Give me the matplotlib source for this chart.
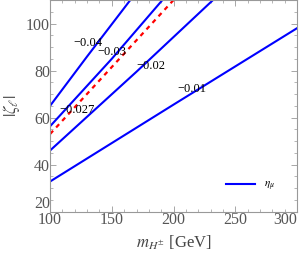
import matplotlib
matplotlib.use("Agg")
import matplotlib.pyplot as plt
from matplotlib.ticker import MultipleLocator

# data
x_m004 = [100, 130, 165]
y_m004 = [65, 86, 110]
x_m003 = [100, 150, 191]
y_m003 = [56.3, 85, 110]
x_m0027 = [100, 150, 200]
y_m0027 = [53, 81.5, 110]
x_m002 = [100, 170, 232]
y_m002 = [46, 79.5, 110]
x_m001 = [100, 200, 300]
y_m001 = [32.8, 65.5, 98]

labels = ["\u22120.04", "\u22120.03", "\u22120.02", "\u22120.01", "\u22120.027"]
label_x = [131, 150, 182, 215, 122]
label_y = [91.5, 87.7, 82, 72, 63]

x_ticks = [100, 150, 200, 250, 300]
y_ticks = [20, 40, 60, 80, 100]

plt.rcParams['font.family'] = ['Liberation Serif', 'DejaVu Serif']
plt.rcParams['mathtext.fontset'] = 'stix'

fig = plt.figure(figsize=(3.0, 2.54), dpi=100)
ax = fig.add_axes([0.167, 0.167, 0.823, 0.833])

blue = '#0000ff'
ax.plot(x_m004, y_m004, color=blue, lw=1.5, label=r'$\eta_\mu$')
ax.plot(x_m003, y_m003, color=blue, lw=1.5)
ax.plot(x_m002, y_m002, color=blue, lw=1.5)
ax.plot(x_m001, y_m001, color=blue, lw=1.5)
ax.plot(x_m0027, y_m0027, color='#ff0000', lw=1.6, ls=(0, (2, 2)))

for t, lx, ly in zip(labels, label_x, label_y):
    ax.text(lx, ly, t, fontsize=9, ha='center', va='center', color='black')

ax.set_xlim(100, 300)
ax.set_ylim(20, 110)
ax.set_xticks(x_ticks, [str(v) for v in x_ticks])
ax.set_yticks(y_ticks, [str(v) for v in y_ticks])
ax.xaxis.set_minor_locator(MultipleLocator(10))
ax.yaxis.set_minor_locator(MultipleLocator(5))
ax.tick_params(which='both', direction='in', top=True, right=True, color='#999999', labelcolor='#555555', labelsize=11.5, pad=0)
ax.tick_params(which='major', length=4, width=0.6)
ax.tick_params(which='minor', length=2, width=0.5)
for s in ax.spines.values():
    s.set_color('#999999')
    s.set_linewidth(0.8)
ax.get_xticklabels()[-1].set_horizontalalignment('right')
ax.get_yticklabels()[0].set_verticalalignment('bottom')

ax.set_xlabel(r'$m_{H^{\pm}}$ [GeV]', fontsize=12, color='#444444', labelpad=4)
ax.set_ylabel(r'$|\zeta_\ell|$', fontsize=12, color='#444444', labelpad=3)

ax.legend(loc='lower right', frameon=False, fontsize=8, handlelength=2.6, bbox_to_anchor=(0.95, 0.04))

fig.savefig('out.png', dpi=100)
